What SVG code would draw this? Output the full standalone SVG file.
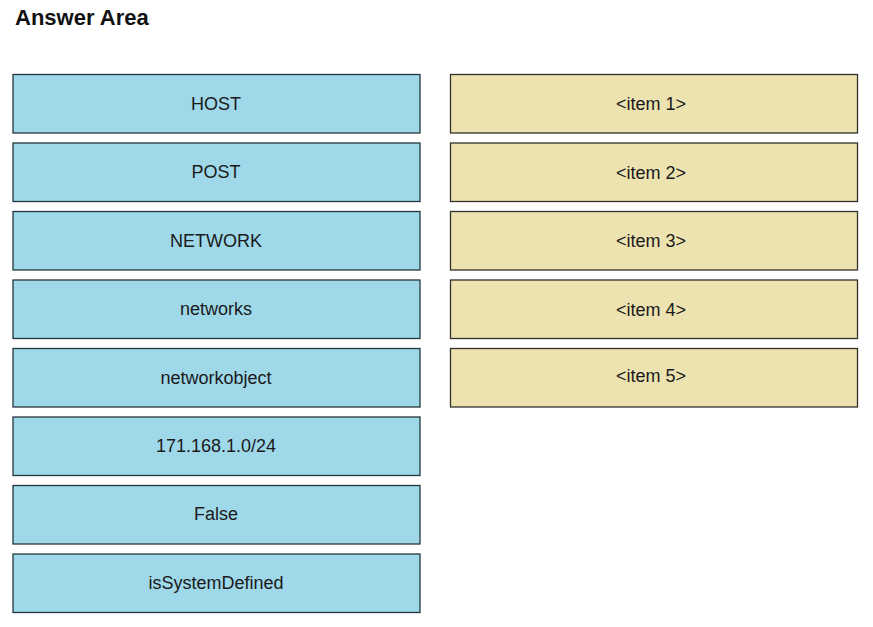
<svg xmlns="http://www.w3.org/2000/svg" width="873" height="627" viewBox="0 0 873 627">
<style>
.b{fill:#9ed8e9;stroke:#24363c;stroke-width:1.3}
.y{fill:#ede3b1;stroke:#33302a;stroke-width:1.3}
.t{font-family:"Liberation Sans",Arial,sans-serif;font-size:18px;fill:#1a1a1a;text-anchor:middle}
.h{font-family:"Liberation Sans",Arial,sans-serif;font-size:22px;font-weight:bold;fill:#111}
</style>
<rect width="873" height="627" fill="#fff"/>
<text class="h" x="15" y="25">Answer Area</text>
<g id="n1"><rect class="b" x="13" y="74.5" width="407" height="58.5"/><text class="t" x="216" y="109.5">HOST</text></g>
<g id="n2"><rect class="b" x="13" y="143" width="407" height="58.5"/><text class="t" x="216" y="178">POST</text></g>
<g id="n3"><rect class="b" x="13" y="211.5" width="407" height="58.5"/><text class="t" x="216" y="246.5">NETWORK</text></g>
<g id="n4"><rect class="b" x="13" y="280" width="407" height="58.5"/><text class="t" x="216" y="315">networks</text></g>
<g id="n5"><rect class="b" x="13" y="348.5" width="407" height="58.5"/><text class="t" x="216" y="383.5">networkobject</text></g>
<g id="n6"><rect class="b" x="13" y="417" width="407" height="58.5"/><text class="t" x="216" y="452">171.168.1.0/24</text></g>
<g id="n7"><rect class="b" x="13" y="485.5" width="407" height="58.5"/><text class="t" x="216" y="520">False</text></g>
<g id="n8"><rect class="b" x="13" y="554" width="407" height="58.5"/><text class="t" x="216" y="588.5">isSystemDefined</text></g>
<g id="i1"><rect class="y" x="450.5" y="74.5" width="407" height="58.5"/><text class="t" x="651" y="110">&lt;item 1&gt;</text></g>
<g id="i2"><rect class="y" x="450.5" y="143" width="407" height="58.5"/><text class="t" x="651" y="178.5">&lt;item 2&gt;</text></g>
<g id="i3"><rect class="y" x="450.5" y="211.5" width="407" height="58.5"/><text class="t" x="651" y="247">&lt;item 3&gt;</text></g>
<g id="i4"><rect class="y" x="450.5" y="280" width="407" height="58.5"/><text class="t" x="651" y="315.5">&lt;item 4&gt;</text></g>
<g id="i5"><rect class="y" x="450.5" y="348.5" width="407" height="58.5"/><text class="t" x="651" y="382">&lt;item 5&gt;</text></g>
<g id="connectors"/>
</svg>
